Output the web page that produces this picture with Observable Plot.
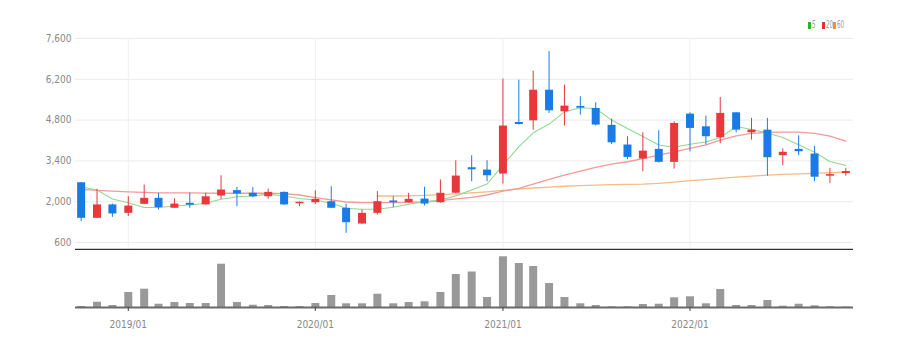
<!DOCTYPE html>
<html><head><meta charset="utf-8">
<script src="https://cdn.jsdelivr.net/npm/d3@7"></script>
<script src="https://cdn.jsdelivr.net/npm/@observablehq/plot@0.6"></script>
<style>
html,body{margin:0;padding:0;background:#fff;}
#wrap{position:relative;width:906px;height:346px;overflow:hidden;font-family:"Liberation Sans Narrow","DejaVu Sans Condensed",sans-serif;}
#price{position:absolute;left:0;top:0;}
#vol{position:absolute;left:0;top:250px;}
#legend{position:absolute;top:19px;left:808px;width:40px;height:12px;font-size:10px;color:#999;line-height:12px;}
#legend span{position:absolute;top:0;display:flex;align-items:center;}
#legend i{display:inline-block;width:3px;height:7px;margin-right:1px;}
#legend b{font-weight:normal;display:inline-block;transform:scaleX(0.62);transform-origin:left center;}
</style></head><body>
<div id="wrap"><div id="legend"></div><div id="price"></div><div id="vol"></div></div>
<script>
const months = ["2018-10","2018-11","2018-12","2019-01","2019-02","2019-03","2019-04","2019-05","2019-06","2019-07","2019-08","2019-09","2019-10","2019-11","2019-12","2020-01","2020-02","2020-03","2020-04","2020-05","2020-06","2020-07","2020-08","2020-09","2020-10","2020-11","2020-12","2021-01","2021-02","2021-03","2021-04","2021-05","2021-06","2021-07","2021-08","2021-09","2021-10","2021-11","2021-12","2022-01","2022-02","2022-03","2022-04","2022-05","2022-06","2022-07","2022-08","2022-09","2022-10","2022-11"];
const open  = [2650,1430,1890,1600,1910,2115,1775,1945,1890,2195,2380,2290,2170,2320,1930,1965,2000,1775,1235,1600,2025,1965,2090,1965,2290,3165,3085,2950,4720,4775,5825,5085,5270,5200,4620,3945,3465,3795,3350,5005,4570,4195,5050,4365,4455,3580,3795,3635,2875,2965];
const high  = [2660,2425,1920,2170,2570,2290,2100,2290,2290,2890,2490,2490,2435,2335,1990,2375,2515,1910,1715,2345,2170,2290,2495,2745,3405,3575,3405,6205,6170,6480,7150,6000,5600,5395,4835,4230,4365,4435,4740,5050,4935,5575,5060,4860,4860,3810,4260,3900,3145,3145];
const low   = [1315,1420,1465,1490,1900,1715,1765,1775,1880,2080,1830,2140,2090,1870,1830,1910,1760, 915,1225,1545,1795,1950,1855,1950,2280,2685,2685,2605,4630,4455,5030,4595,4970,4600,3960,3445,3030,3330,3120,3715,3945,3990,4365,4115,2875,3235,3575,2685,2630,2875];
const close = [1430,1890,1580,1850,2115,1795,1920,1880,2170,2400,2265,2170,2320,1890,1980,2080,1775,1280,1600,2000,1965,2080,1920,2290,2880,3095,2890,4595,4650,5825,5120,5280,5210,4630,4020,3520,3735,3350,4685,4515,4230,5030,4455,4455,3510,3695,3715,2840,2930,3035];
const ma5   = [2514,2401,2090,1966,1800,1800,1850,1887,1945,2082,2171,2195,2260,2195,2110,2058,1945,1774,1739,1739,1808,1911,2000,2058,2200,2401,2607,3257,3885,4365,4663,5084,5223,5200,4800,4515,4240,3947,3866,3970,4050,4200,4580,4480,4360,4200,3950,3700,3380,3240];
const ma20  = [2425,2390,2360,2335,2320,2305,2300,2300,2295,2290,2290,2290,2295,2280,2230,2140,2060,1990,1966,1966,1966,1975,1990,2040,2100,2150,2230,2360,2460,2607,2767,2915,3052,3179,3292,3371,3480,3600,3713,3830,3947,4115,4262,4345,4380,4390,4390,4345,4251,4080];
const ma60  = [null,null,null,null,null,null,null,null,null,null,null,null,null,null,null,null,null,null,null,2195,2195,2200,2215,2240,2270,2300,2340,2390,2430,2470,2500,2530,2550,2570,2585,2595,2605,2630,2670,2720,2760,2800,2840,2875,2910,2935,2955,2975,2995,3015];
const volume = [100,530,200,1500,1830,330,500,400,400,4330,500,230,200,100,100,400,1200,370,370,1330,370,500,570,1500,3300,3550,1000,5070,4400,4100,2400,1000,370,200,70,70,300,330,970,1070,370,1800,200,200,700,130,330,170,70,50];
const yearTicks = ["2019-01","2020-01","2021-01","2022-01"];
const priceTicks = [600,2000,3400,4800,6200,7600];
const maNames = ["5","20","60"];
const maColors = ["#22b822","#ee2e2e","#f39425"];
const maLineColors = ["#8fd98f","#f29a9a","#f7b985"];

const parse = d3.utcParse("%Y-%m");
const rows = months.map((m,i)=>({date:parse(m),open:open[i],high:high[i],low:low[i],close:close[i],ma5:ma5[i],ma20:ma20[i],ma60:ma60[i],vol:volume[i]}));
const yearDates = yearTicks.map(parse);
const upColor="#e8383b", downColor="#1a7be6";
const candleColor = d => d.close >= d.open ? upColor : downColor;
const xDomain=[new Date(Date.UTC(2018,8,20)), new Date(Date.UTC(2022,10,16))];
const font = '"Liberation Sans Narrow","DejaVu Sans Condensed",sans-serif';
const W=906;
const fmt = d3.format(",");

const price = Plot.plot({
  width:W, height:250, marginLeft:75, marginRight:53, marginTop:38, marginBottom:1,
  x:{type:"utc", domain:xDomain, axis:null},
  y:{domain:[360,7600], axis:null},
  style:{background:"transparent", fontFamily:font, fontSize:"10px"},
  marks:[
    Plot.ruleY(priceTicks, {stroke:"#ebebeb"}),
    Plot.ruleX(yearDates, {stroke:"#efefef"}),
    Plot.text(priceTicks, {y:d=>d, frameAnchor:"left", dx:-4, textAnchor:"end", text:d=>fmt(d), fill:"#888"}),
    Plot.line(rows, {x:"date", y:"ma60", stroke:maLineColors[2], strokeWidth:1.3}),
    Plot.line(rows, {x:"date", y:"ma20", stroke:maLineColors[1], strokeWidth:1.3}),
    Plot.line(rows, {x:"date", y:"ma5", stroke:maLineColors[0], strokeWidth:1.1}),
    Plot.ruleX(rows, {x:"date", y1:"low", y2:"high", stroke:candleColor, strokeWidth:1}),
    Plot.ruleX(rows, {x:"date", y1:"open", y2:"close", stroke:candleColor, strokeWidth:8}),
    Plot.ruleY([360], {stroke:"#333", strokeWidth:1.6})
  ]
});
document.getElementById("price").appendChild(price);

const vol = Plot.plot({
  width:W, height:96, marginLeft:75, marginRight:53, marginTop:0, marginBottom:39,
  x:{type:"utc", domain:xDomain, axis:null},
  y:{domain:[0,5700], axis:null},
  style:{background:"transparent", fontFamily:font, fontSize:"10px"},
  marks:[
    Plot.ruleX(rows, {x:"date", y1:0, y2:"vol", stroke:"#999", strokeWidth:8}),
    Plot.ruleY([0], {stroke:"#6a6a6a", strokeWidth:2}),
    Plot.axisX(yearDates, {tickSize:4, tickPadding:9, tickFormat:d3.utcFormat("%Y/%m"), stroke:"#444", fill:"#888", fontSize:10})
  ]
});
document.getElementById("vol").appendChild(vol);

const leg = document.getElementById("legend");
const legOffsets = [0, 13.5, 24.5];
maNames.forEach((n,i)=>{
  const s=document.createElement("span");
  s.style.left = legOffsets[i] + "px";
  const b=document.createElement("i"); b.style.background=maColors[i];
  const t=document.createElement("b"); t.textContent=n;
  s.appendChild(b); s.appendChild(t);
  leg.appendChild(s);
});
</script>
</body></html>
